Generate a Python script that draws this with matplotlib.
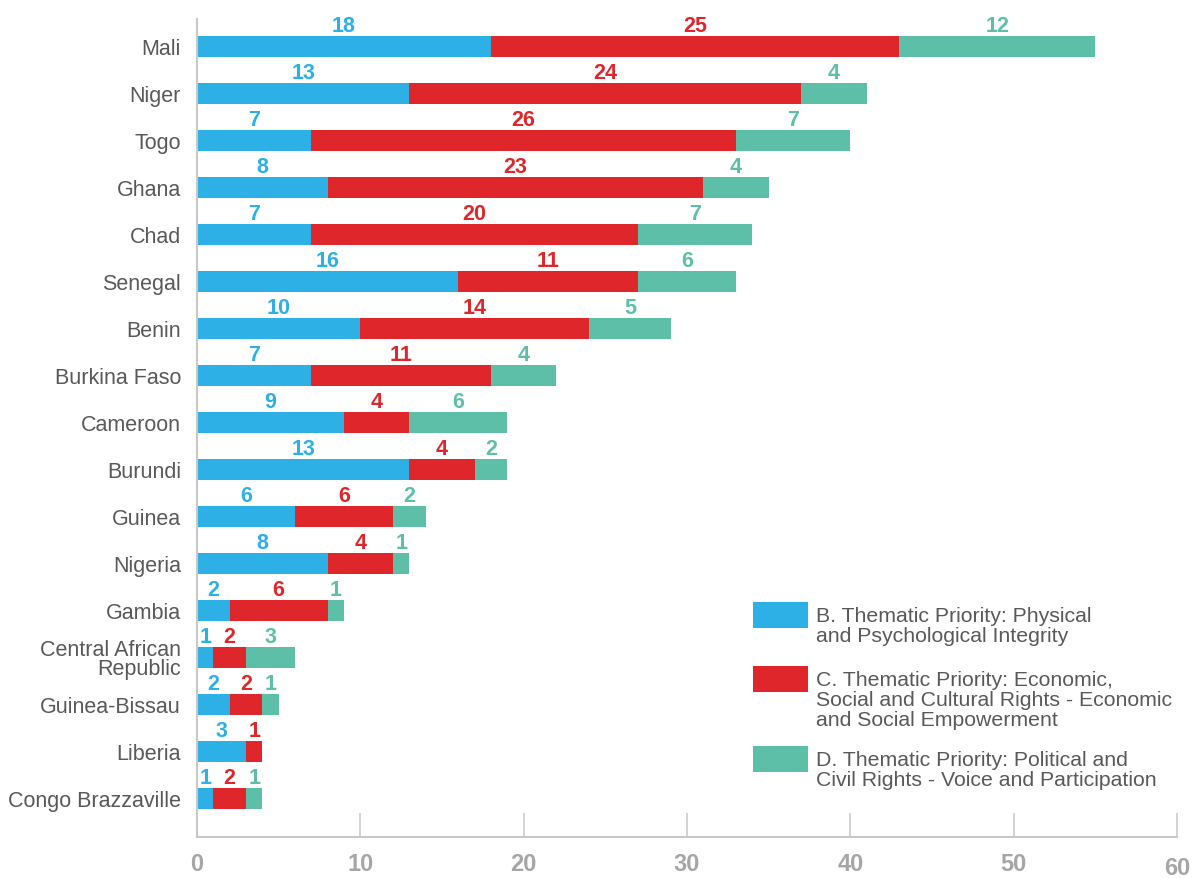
import matplotlib
matplotlib.use("Agg")
import matplotlib.pyplot as plt
from matplotlib.patches import Rectangle
import numpy as np

plt.rcParams['font.family'] = ['Liberation Sans', 'DejaVu Sans']

countries = ["Mali", "Niger", "Togo", "Ghana", "Chad", "Senegal", "Benin",
             "Burkina Faso", "Cameroon", "Burundi", "Guinea", "Nigeria", "Gambia",
             "Central African\nRepublic", "Guinea-Bissau", "Liberia",
             "Congo Brazzaville"]
physical = [18, 13, 7, 8, 7, 16, 10, 7, 9, 13, 6, 8, 2, 1, 2, 3, 1]
economic = [25, 24, 26, 23, 20, 11, 14, 11, 4, 4, 6, 4, 6, 2, 2, 1, 2]
political = [12, 4, 7, 4, 7, 6, 5, 4, 6, 2, 2, 1, 1, 3, 1, 0, 1]
series_names = [
    "B. Thematic Priority: Physical\nand Psychological Integrity",
    "C. Thematic Priority: Economic,\nSocial and Cultural Rights - Economic\nand Social Empowerment",
    "D. Thematic Priority: Political and\nCivil Rights - Voice and Participation",
]
x_ticks = [0, 10, 20, 30, 40, 50, 60]

colors = ["#2cb0e5", "#de262b", "#5ebfa8"]
text_grey = "#595959"
axis_grey = "#c8c8c8"

W, H = 1200, 879
fig = plt.figure(figsize=(W / 100, H / 100), dpi=100)
ax = fig.add_axes([197 / W, 1 - 838 / H, (1177 - 197) / W, (838 - 20) / H])

y = np.arange(len(countries))
left = np.zeros(len(countries))
for vals, col in zip([physical, economic, political], colors):
    vals = np.array(vals, dtype=float)
    ax.barh(y, vals, left=left, height=0.447, color=col, linewidth=0)
    for yi, l, v in zip(y, left, vals):
        if v > 0:
            ax.annotate(f"{int(v)}", xy=(l + v / 2, yi), xytext=(0, 11.2),
                        textcoords="offset points", ha="center", va="baseline",
                        fontsize=15.5, fontweight="bold", color=col)
    left += vals

ax.set_xlim(0, 60)
ax.set_ylim(16.82, -0.585)

ax.set_yticks(y)
ax.set_yticklabels(countries, fontsize=15.5, color=text_grey)
ax.tick_params(axis="y", length=0, pad=11.5)
for lab in ax.get_yticklabels():
    if "\n" in lab.get_text():
        lab.set_linespacing(0.86)

ax.set_xticks(x_ticks)
ax.set_xticklabels([str(t) for t in x_ticks], fontsize=17, fontweight="bold",
                   color="#a6a6a8")
ax.tick_params(axis="x", direction="in", length=17.3, width=1.1,
               color=axis_grey, pad=10.8)
# the last label sits a bit lower than the rest
ax.xaxis.get_major_ticks()[-1].set_pad(14.0)

for side in ["top", "right"]:
    ax.spines[side].set_visible(False)
for side in ["left", "bottom"]:
    ax.spines[side].set_color(axis_grey)
    ax.spines[side].set_linewidth(1.5)

# legend: colour swatches with wrapped labels
swatch_tops = [603, 667, 747]
text_tops = [607, 671, 751]
for top, ttop, col, name in zip(swatch_tops, text_tops, colors, series_names):
    fig.add_artist(Rectangle((753 / W, 1 - (top + 26) / H), 55 / W, 26 / H,
                             transform=fig.transFigure, color=col, linewidth=0))
    fig.text(816 / W, 1 - ttop / H, name, fontsize=15.3, color=text_grey,
             ha="left", va="top", linespacing=1.07)

fig.savefig("out.png", dpi=100)
